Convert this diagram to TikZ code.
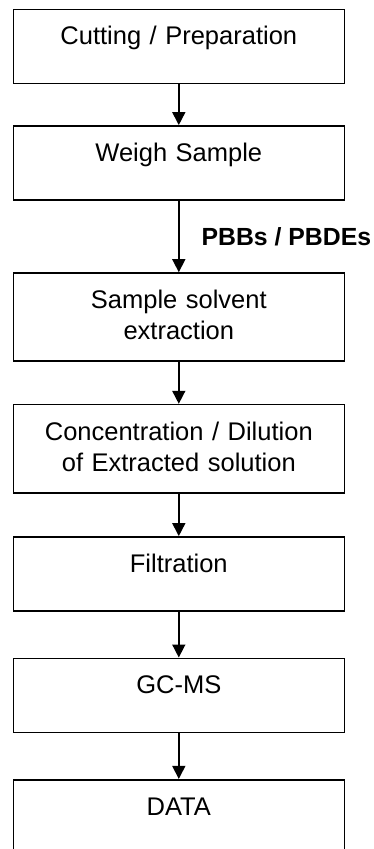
\documentclass[tikz,border=0pt]{standalone}
\usepackage{fontspec}
\setmainfont{Liberation Sans}
\usetikzlibrary{arrows.meta,positioning}

\begin{document}
\begin{tikzpicture}[-{Triangle[width=13pt,length=13pt]}, color=black, line width=1.6pt,
      every node/.append style={font=\fontsize{25.5}{31}\selectfont},
      stepbox/.style={draw,rectangle,text width=301pt,align=center,inner xsep=15pt,inner ysep=17pt,
                      text height=18.5pt,text depth=21.5pt},
      twoline/.style={text depth=35.7pt}]
    \tikzstyle{tag} = [anchor=west,inner xsep=0pt,xshift=22pt,font=\fontsize{24.8}{29}\selectfont\bfseries]
    \useasboundingbox (0,0) rectangle (373pt,-849pt);
    \node (cut) [stepbox,anchor=north] at (178.8pt,-8.5pt) {Cutting / Preparation};
    \node (weigh) [stepbox,below=41pt of cut] {Weigh Sample};
    \node (extract) [stepbox,twoline,below=71.5pt of weigh] {Sample solvent\\extraction};
    \node (conc) [stepbox,twoline,below=41.8pt of extract] {Concentration / Dilution\\of Extracted solution};
    \node (filter) [stepbox,below=42.5pt of conc] {Filtration};
    \node (gcms) [stepbox,below=45.8pt of filter] {GC-MS};
    \node (data) [stepbox,below=45.8pt of gcms] {DATA};
    \draw (cut) -- (weigh);
    \draw (weigh) -- node [tag] {PBBs / PBDEs} (extract);
    \draw (extract) -- (conc);
    \draw (conc) -- (filter);
    \draw (filter) -- (gcms);
    \draw (gcms) -- (data);
  \end{tikzpicture}
\end{document}
